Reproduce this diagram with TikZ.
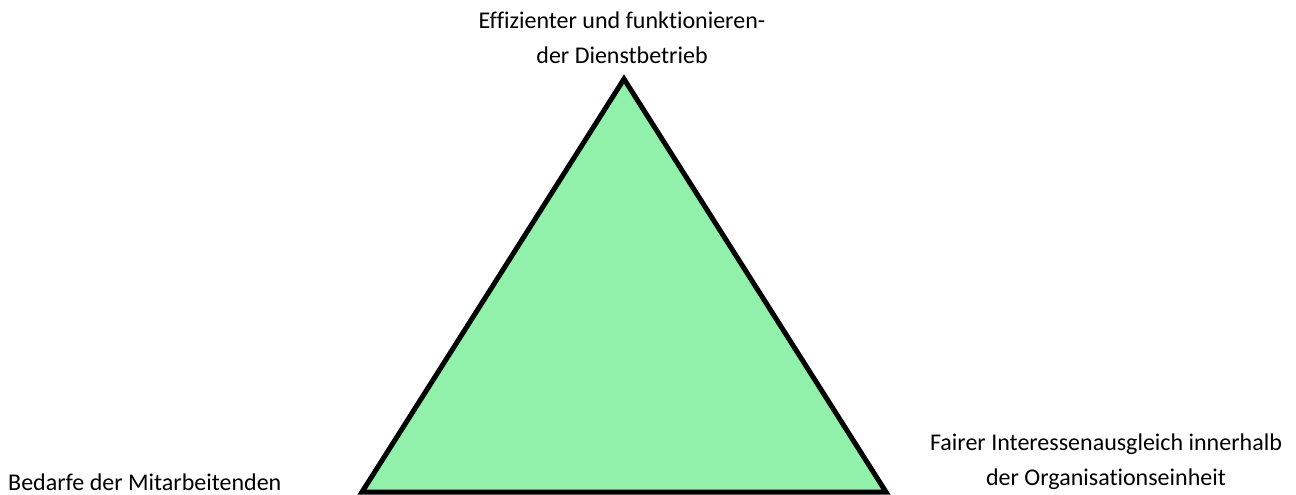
\documentclass[tikz,border=0pt]{standalone}
\usepackage{fontspec}
\setmainfont[Ligatures=NoCommon]{Carlito}
\definecolor{trifill}{RGB}{145,240,170}
\tikzset{
  lbl/.style={align=center, inner sep=0pt, font=\fontsize{24}{35}\selectfont},
  tri/.style={draw=black, line width=5pt, fill=trifill, line join=miter}
}
\begin{document}
\begin{tikzpicture}[x=1pt,y=-1pt]
\useasboundingbox (0,0) rectangle (1296,495);
\coordinate (apex) at (624,79);
\coordinate (bl) at (362,492);
\coordinate (br) at (886,492);
\draw[tri] (apex) -- (bl) -- (br) -- cycle;
\node[lbl] (top) at (622,38) {Effizienter und funktionieren-\\der Dienstbetrieb};
\node[lbl, anchor=west] (left) at (8,482) {Bedarfe der Mitarbeitenden};
\node[lbl] (right) at (1106,462) {Fairer Interessenausgleich innerhalb\\der Organisationseinheit};
\end{tikzpicture}
\end{document}
